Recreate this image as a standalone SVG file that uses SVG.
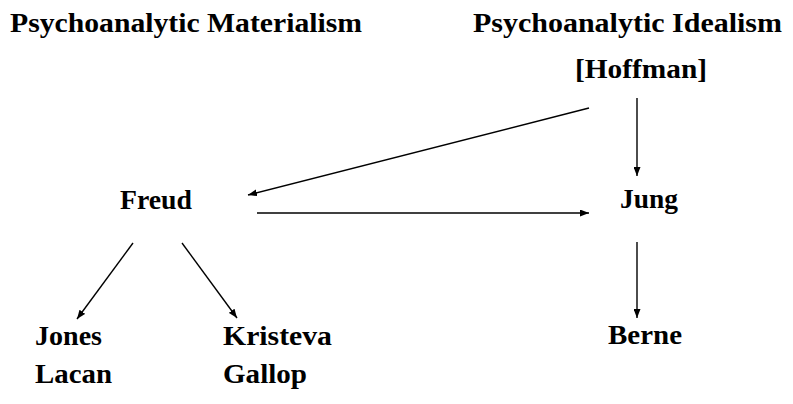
<svg xmlns="http://www.w3.org/2000/svg" width="793" height="404" viewBox="0 0 793 404">
<defs>
<style>
text { font-family: "Liberation Serif", "Times New Roman", serif; font-weight: bold; font-size: 27px; fill: #000; }
.edge { stroke: #000; stroke-width: 1.4; fill: none; marker-end: url(#arrow); }
</style>
<marker id="arrow" markerUnits="userSpaceOnUse" markerWidth="9" markerHeight="7" viewBox="0 0 9 7" refX="9" refY="3.5" orient="auto">
<path d="M0,0 L9,3.5 L0,7 z" fill="#000"/>
</marker>
</defs>
<rect width="793" height="404" fill="#fff"/>
<g id="materialism"><text x="10" y="32" textLength="352" lengthAdjust="spacingAndGlyphs">Psychoanalytic Materialism</text></g>
<g id="idealism"><text x="473" y="32" textLength="309" lengthAdjust="spacingAndGlyphs">Psychoanalytic Idealism</text></g>
<g id="hoffman"><text x="575" y="78" textLength="132" lengthAdjust="spacingAndGlyphs">[Hoffman]</text></g>
<g id="freud"><text x="120" y="209" textLength="72" lengthAdjust="spacingAndGlyphs">Freud</text></g>
<g id="jung"><text x="620" y="208" textLength="58" lengthAdjust="spacingAndGlyphs">Jung</text></g>
<g id="jones"><text x="35" y="345" textLength="67" lengthAdjust="spacingAndGlyphs">Jones</text></g>
<g id="lacan"><text x="35" y="383" textLength="77" lengthAdjust="spacingAndGlyphs">Lacan</text></g>
<g id="kristeva"><text x="223" y="345" textLength="109" lengthAdjust="spacingAndGlyphs">Kristeva</text></g>
<g id="gallop"><text x="223" y="383" textLength="84" lengthAdjust="spacingAndGlyphs">Gallop</text></g>
<g id="berne"><text x="608" y="344" textLength="74" lengthAdjust="spacingAndGlyphs">Berne</text></g>
<g id="connectors">
<line class="edge" x1="589" y1="108" x2="248" y2="195"/>
<line class="edge" x1="257" y1="213" x2="589" y2="213"/>
<line class="edge" x1="637" y1="98" x2="637" y2="176"/>
<line class="edge" x1="133" y1="243" x2="77" y2="319"/>
<line class="edge" x1="182" y1="243" x2="237" y2="318"/>
<line class="edge" x1="637" y1="242" x2="637" y2="318"/>
</g>
</svg>
